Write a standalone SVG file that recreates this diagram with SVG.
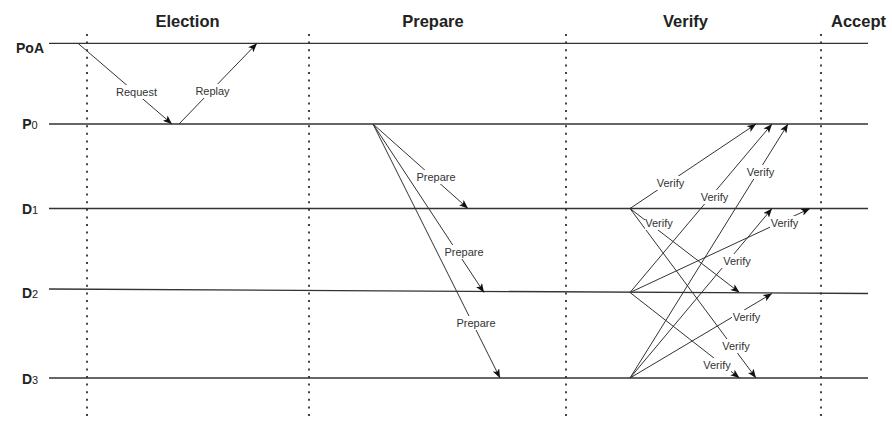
<svg xmlns="http://www.w3.org/2000/svg" width="892" height="421" viewBox="0 0 892 421">
  <style>
    .phase { font-family: "Liberation Sans", Arial, sans-serif; font-weight: bold; font-size: 16.5px; fill: #222; text-anchor: middle; }
    .actor { font-family: "Liberation Sans", Arial, sans-serif; font-weight: bold; font-size: 14px; fill: #222; text-anchor: middle; }
    .actor .sub { font-weight: normal; font-size: 11px; }
    .life { stroke: #333; stroke-width: 1.3; fill: none; }
    .divider { stroke: #444; stroke-width: 2; stroke-dasharray: 2 5.6; fill: none; }
    .msg { stroke: #333; stroke-width: 1; fill: none; marker-end: url(#arrow); }
    .lbl rect { fill: #fff; }
    .lbl text { font-family: "Liberation Sans", Arial, sans-serif; font-size: 11px; fill: #333; text-anchor: middle; }
  </style>
  <defs>
    <marker id="arrow" viewBox="0 0 10 8" markerUnits="userSpaceOnUse" markerWidth="9" markerHeight="7.2" refX="10" refY="4" orient="auto">
      <path d="M0,0 L10,4 L0,8 L2.5,4 Z" fill="#111"/>
    </marker>
  </defs>

  <rect width="892" height="421" fill="#fff"/>

  <!-- phase headers -->
  <g id="phases">
    <text class="phase" x="187.5" y="27">Election</text>
    <text class="phase" x="433" y="26.5">Prepare</text>
    <text class="phase" x="685.5" y="26.5">Verify</text>
    <text class="phase" x="858.5" y="26.5">Accept</text>
  </g>

  <!-- phase boundaries -->
  <g id="dividers">
    <line class="divider" x1="87" y1="34" x2="87" y2="421"/>
    <line class="divider" x1="309" y1="34" x2="309" y2="421"/>
    <line class="divider" x1="566" y1="34" x2="566" y2="421"/>
    <line class="divider" x1="821" y1="34" x2="821" y2="421"/>
  </g>

  <!-- participants -->
  <g id="PoA">
    <text class="actor" x="30" y="53">PoA</text>
    <line class="life" x1="49" y1="43.3" x2="868" y2="43.3"/>
  </g>
  <g id="P0">
    <text class="actor" x="30" y="129">P<tspan class="sub">0</tspan></text>
    <line class="life" x1="49" y1="124" x2="868" y2="124"/>
  </g>
  <g id="D1">
    <text class="actor" x="30" y="214">D<tspan class="sub">1</tspan></text>
    <line class="life" x1="49" y1="208.5" x2="868" y2="208.5"/>
  </g>
  <g id="D2">
    <text class="actor" x="30" y="298">D<tspan class="sub">2</tspan></text>
    <line class="life" x1="49" y1="289" x2="868" y2="293.5"/>
  </g>
  <g id="D3">
    <text class="actor" x="30" y="384">D<tspan class="sub">3</tspan></text>
    <line class="life" x1="49" y1="378" x2="868" y2="378"/>
  </g>

  <!-- messages -->
  <g id="connectors">
    <!-- election -->
    <line class="msg" x1="78" y1="43.3" x2="172" y2="124"/>
    <line class="msg" x1="179" y1="124" x2="257" y2="43.3"/>
    <!-- prepare -->
    <line class="msg" x1="373" y1="124" x2="468" y2="208.5"/>
    <line class="msg" x1="373" y1="124" x2="484" y2="292.5"/>
    <line class="msg" x1="373" y1="124" x2="500" y2="378"/>
    <!-- verify from D1 -->
    <line class="msg" x1="630" y1="208.5" x2="756" y2="124"/>
    <line class="msg" x1="630" y1="208.5" x2="739.5" y2="292.5"/>
    <line class="msg" x1="630" y1="208.5" x2="756" y2="378"/>
    <!-- verify from D2 -->
    <line class="msg" x1="630" y1="292.5" x2="772" y2="124"/>
    <line class="msg" x1="630" y1="292.5" x2="810" y2="208.5"/>
    <line class="msg" x1="630" y1="292.5" x2="739.5" y2="378"/>
    <!-- verify from D3 -->
    <line class="msg" x1="630" y1="378" x2="788" y2="124"/>
    <line class="msg" x1="630" y1="378" x2="772" y2="208.5"/>
    <line class="msg" x1="630" y1="378" x2="772" y2="293.5"/>

    <!-- message labels -->
    <g class="lbl"><rect x="116" y="85" width="41" height="14"/><text x="136.5" y="96">Request</text></g>
    <g class="lbl"><rect x="195" y="84" width="35" height="14"/><text x="212.5" y="95">Replay</text></g>

    <g class="lbl"><rect x="416" y="170" width="40" height="14"/><text x="436" y="181">Prepare</text></g>
    <g class="lbl"><rect x="444" y="245" width="40" height="14"/><text x="464" y="256">Prepare</text></g>
    <g class="lbl"><rect x="456" y="316" width="40" height="14"/><text x="476" y="327">Prepare</text></g>

    <g class="lbl"><rect x="656" y="176" width="29" height="14"/><text x="670.5" y="187">Verify</text></g>
    <g class="lbl"><rect x="645" y="216" width="29" height="14"/><text x="659" y="227">Verify</text></g>
    <g class="lbl"><rect x="700" y="190" width="29" height="14"/><text x="714.5" y="201">Verify</text></g>
    <g class="lbl"><rect x="746" y="165" width="29" height="14"/><text x="760.5" y="176">Verify</text></g>
    <g class="lbl"><rect x="770" y="216" width="29" height="14"/><text x="784.5" y="227">Verify</text></g>
    <g class="lbl"><rect x="722" y="254" width="29" height="14"/><text x="737" y="265">Verify</text></g>
    <g class="lbl"><rect x="732" y="310" width="29" height="14"/><text x="746.5" y="321">Verify</text></g>
    <g class="lbl"><rect x="721" y="339" width="29" height="14"/><text x="736" y="350">Verify</text></g>
    <g class="lbl"><rect x="702" y="358" width="29" height="14"/><text x="717" y="369">Verify</text></g>
  </g>
</svg>
